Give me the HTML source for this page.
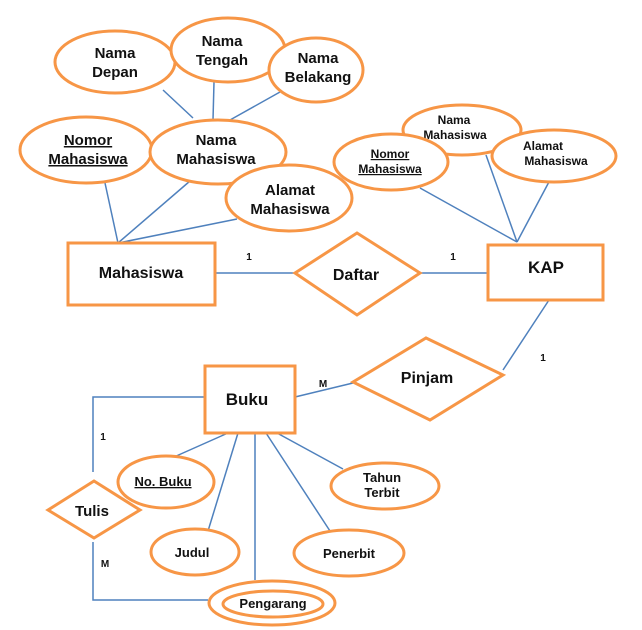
<!DOCTYPE html>
<html><head><meta charset="utf-8"><style>
html,body{margin:0;padding:0;background:#fff;}
svg{display:block;}
text{font-family:"Liberation Sans",Arial,sans-serif;font-weight:bold;fill:#111;text-anchor:middle;}
.e{fill:#fff;stroke:#f79646;stroke-width:3;}
.l{stroke:#4f81bd;stroke-width:1.5;fill:none;}
</style></head><body>
<svg width="642" height="630" viewBox="0 0 642 630">
<!-- lines -->
<g class="l">
<line x1="163" y1="90" x2="193" y2="118"/>
<line x1="214" y1="82" x2="213" y2="120"/>
<line x1="280" y1="92" x2="230" y2="120"/>
<line x1="118" y1="243" x2="105" y2="183"/>
<line x1="118" y1="243" x2="190" y2="181"/>
<line x1="118" y1="243" x2="237" y2="219"/>
<line x1="215" y1="273" x2="295" y2="273"/>
<line x1="420" y1="273" x2="488" y2="273"/>
<line x1="517" y1="242" x2="420" y2="188"/>
<line x1="517" y1="242" x2="486" y2="155"/>
<line x1="517" y1="242" x2="550" y2="180"/>
<line x1="549" y1="300" x2="503" y2="370"/>
<line x1="295" y1="397" x2="353" y2="383"/>
<polyline points="205,397 93,397 93,472"/>
<polyline points="93,542 93,600 208,600"/>
<line x1="228" y1="433" x2="174" y2="457"/>
<line x1="238" y1="433" x2="208" y2="531"/>
<line x1="255" y1="433" x2="255" y2="580"/>
<line x1="266" y1="433" x2="330" y2="531"/>
<line x1="277" y1="433" x2="343" y2="469"/>
</g>
<!-- top cluster -->
<ellipse class="e" cx="115" cy="62" rx="60" ry="31"/>
<text x="115" y="58" font-size="15">Nama</text><text x="115" y="77" font-size="15">Depan</text>
<ellipse class="e" cx="228" cy="50" rx="57" ry="32"/>
<text x="222" y="46" font-size="15">Nama</text><text x="222" y="65" font-size="15">Tengah</text>
<ellipse class="e" cx="316" cy="70" rx="47" ry="32"/>
<text x="318" y="63" font-size="15">Nama</text><text x="318" y="82" font-size="15">Belakang</text>
<ellipse class="e" cx="86" cy="150" rx="66" ry="33"/>
<text x="88" y="145" font-size="15" text-decoration="underline">Nomor</text><text x="88" y="164" font-size="15" text-decoration="underline">Mahasiswa</text>
<ellipse class="e" cx="218" cy="152" rx="68" ry="32"/>
<text x="216" y="145" font-size="15">Nama</text><text x="216" y="164" font-size="15">Mahasiswa</text>
<ellipse class="e" cx="289" cy="198" rx="63" ry="33"/>
<text x="290" y="195" font-size="15">Alamat</text><text x="290" y="214" font-size="15">Mahasiswa</text>
<rect class="e" x="68" y="243" width="147" height="62"/>
<text x="141" y="278" font-size="16">Mahasiswa</text>
<polygon class="e" points="295,273 357,233 420,273 357,315"/>
<text x="356" y="280" font-size="16">Daftar</text>
<text x="249" y="260" font-size="10">1</text>
<text x="453" y="260" font-size="10">1</text>
<!-- KAP cluster -->
<ellipse class="e" cx="462" cy="130" rx="59" ry="25"/>
<text x="454" y="124" font-size="12" font-weight="normal">Nama</text><text x="455" y="139" font-size="12" font-weight="normal">Mahasiswa</text>
<ellipse class="e" cx="391" cy="162" rx="57" ry="28"/>
<text x="390" y="158" font-size="12" text-decoration="underline">Nomor</text><text x="390" y="173" font-size="12" text-decoration="underline">Mahasiswa</text>
<ellipse class="e" cx="554" cy="156" rx="62" ry="26"/>
<text x="543" y="150" font-size="12" font-weight="normal">Alamat</text><text x="556" y="165" font-size="12" font-weight="normal">Mahasiswa</text>
<rect class="e" x="488" y="245" width="115" height="55"/>
<text x="546" y="273" font-size="17">KAP</text>
<text x="543" y="361" font-size="10">1</text>
<polygon class="e" points="353,382 426,338 503,375 430,420"/>
<text x="427" y="383" font-size="16">Pinjam</text>
<text x="323" y="387" font-size="10">M</text>
<!-- Buku -->
<rect class="e" x="205" y="366" width="90" height="67"/>
<text x="247" y="405" font-size="17">Buku</text>
<polygon class="e" points="48,510 94,481 140,510 94,538"/>
<text x="92" y="516" font-size="15">Tulis</text>
<text x="103" y="440" font-size="10">1</text>
<text x="105" y="567" font-size="10">M</text>
<ellipse class="e" cx="166" cy="482" rx="48" ry="26"/>
<text x="163" y="486" font-size="13" text-decoration="underline">No. Buku</text>
<ellipse class="e" cx="195" cy="552" rx="44" ry="23"/>
<text x="192" y="557" font-size="13">Judul</text>
<ellipse class="e" cx="349" cy="553" rx="55" ry="23"/>
<text x="349" y="558" font-size="13">Penerbit</text>
<ellipse class="e" cx="385" cy="486" rx="54" ry="23"/>
<text x="382" y="482" font-size="13">Tahun</text><text x="382" y="497" font-size="13">Terbit</text>
<ellipse class="e" cx="272" cy="603" rx="63" ry="22"/>
<ellipse class="e" cx="273" cy="604" rx="50" ry="13"/>
<text x="273" y="608" font-size="13">Pengarang</text>
</svg>
</body></html>
